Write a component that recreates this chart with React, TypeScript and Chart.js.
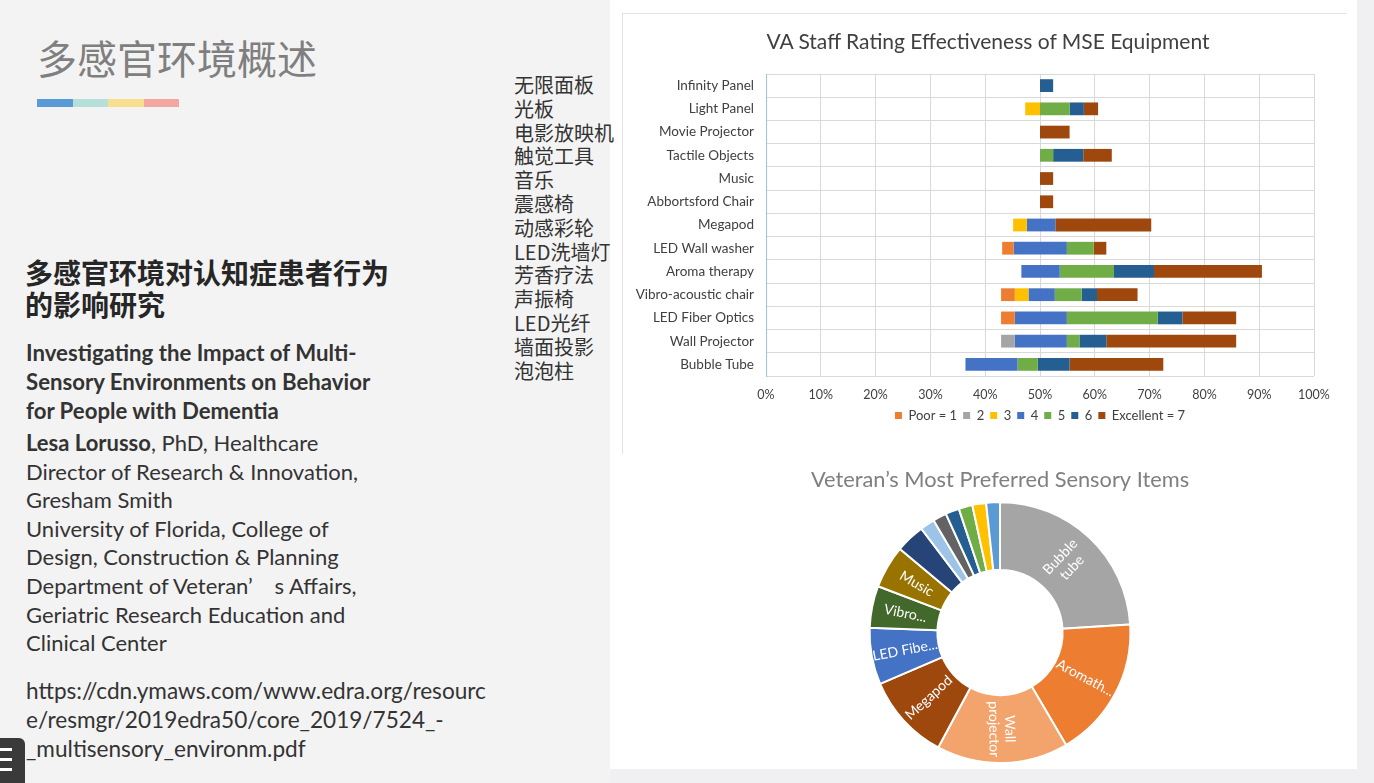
import React, { useEffect, useRef } from 'react';
import { Chart, registerables } from 'chart.js';

Chart.register(...registerables);

// ---------- Bar chart data (VA Staff Rating Effectiveness of MSE Equipment) ----------
const equipment = [
  'Infinity Panel',
  'Light Panel',
  'Movie Projector',
  'Tactile Objects',
  'Music',
  'Abbortsford Chair',
  'Megapod',
  'LED Wall washer',
  'Aroma therapy',
  'Vibro-acoustic chair',
  'LED Fiber Optics',
  'Wall Projector',
  'Bubble Tube',
];
// invisible lead-in so each bar floats around the 50% line
const offsetPct = [50, 47.3, 50, 50, 50, 50, 45.1, 43.1, 46.6, 42.9, 42.9, 42.9, 36.4];
const rating1 = [0, 0, 0, 0, 0, 0, 0, 2.1, 0, 2.5, 2.5, 0, 0];
const rating2 = [0, 0, 0, 0, 0, 0, 0, 0, 0, 0, 0, 2.5, 0];
const rating3 = [0, 2.7, 0, 0, 0, 0, 2.5, 0, 0, 2.5, 0, 0, 0];
const rating4 = [0, 0, 0, 0, 0, 0, 5.2, 9.7, 7.0, 4.8, 9.5, 9.5, 9.5];
const rating5 = [0, 5.4, 0, 2.4, 0, 0, 0, 4.9, 9.9, 4.9, 16.6, 2.3, 3.7];
const rating6 = [2.4, 2.6, 0, 5.5, 0, 0, 0, 0, 7.3, 2.8, 4.5, 4.9, 5.8];
const rating7 = [0, 2.6, 5.4, 5.2, 2.4, 2.4, 17.5, 2.3, 19.7, 7.4, 9.8, 23.7, 17.1];
const ratingLabels = ['Poor = 1', '2', '3', '4', '5', '6', 'Excellent = 7'];
const ratingColors = ['#ED7D31', '#A5A5A5', '#FFC000', '#4472C4', '#70AD47', '#255E91', '#9E480E'];
const barTitle = 'VA Staff Rating Effectiveness of MSE Equipment';

// ---------- Doughnut data (Veteran's Most Preferred Sensory Items) ----------
const preferredItems = [
  'Bubble tube',
  'Aromatherapy',
  'Wall projector',
  'Megapod',
  'LED Fiber Optics',
  'Vibro-acoustic chair',
  'Music',
  'Light Panel',
  'Tactile Objects',
  'Infinity Panel',
  'Movie Projector',
  'LED Wall washer',
  'Abbortsford Chair',
  'Other',
];
const preferredShare = [24, 17.5, 16.3, 10.7, 7, 5.2, 5.3, 3.6, 1.8, 1.7, 1.7, 1.7, 1.7, 1.7];
const preferredShown = ['Bubble\ntube', 'Aromath...', 'Wall\nprojector', 'Megapod', 'LED Fibe...', 'Vibro...', 'Music', '', '', '', '', '', '', ''];
const preferredColors = [
  '#A5A5A5', '#ED7D31', '#F2A46C', '#9E480E', '#4472C4', '#43682B', '#997300',
  '#264478', '#9DC3E6', '#636363', '#255E91', '#70AD47', '#FFC000', '#5B9BD5',
];
const doughnutTitle = 'Veteran\u2019s Most Preferred Sensory Items';

// ---------- Slide text ----------
const slideTitle = '多感官环境概述';
const cnHeading = ['多感官环境对认知症患者行为', '的影响研究'];
const enHeading = ['Investigating the Impact of Multi-', 'Sensory Environments on Behavior', 'for People with Dementia'];
const authorName = 'Lesa Lorusso';
const authorLines = [
  ', PhD, Healthcare',
  'Director of Research & Innovation,',
  'Gresham Smith',
  'University of Florida, College of',
  'Design, Construction & Planning',
  'Department of Veteran\u2019\u3000s Affairs,',
  'Geriatric Research Education and',
  'Clinical Center',
];
const urlLines = [
  'https://cdn.ymaws.com/www.edra.org/resourc',
  'e/resmgr/2019edra50/core_2019/7524_-',
  '_multisensory_environm.pdf',
];
const cnList = ['无限面板', '光板', '电影放映机', '触觉工具', '音乐', '震感椅', '动感彩轮', 'LED洗墙灯', '芳香疗法', '声振椅', 'LED光纤', '墙面投影', '泡泡柱'];
const stripeColors = ['#5B9BD5', '#B5DFD9', '#F8DE8F', '#F4A7A1'];

const FONT = 'Lato, "Liberation Sans", sans-serif';
const CJK = '"Noto Sans CJK SC", sans-serif';

function BarChart() {
  const ref = useRef<HTMLCanvasElement>(null);
  useEffect(() => {
    const series = [rating1, rating2, rating3, rating4, rating5, rating6, rating7];
    const chart = new Chart(ref.current!, {
      type: 'bar',
      data: {
        labels: equipment,
        datasets: [
          { label: 'offset', data: offsetPct, backgroundColor: 'rgba(0,0,0,0)', borderWidth: 0 },
          ...series.map((d, i) => ({
            label: ratingLabels[i],
            data: d,
            backgroundColor: ratingColors[i],
            borderWidth: 0,
          })),
        ],
      },
      options: {
        indexAxis: 'y',
        animation: false,
        responsive: false,
        maintainAspectRatio: false,
        datasets: { bar: { categoryPercentage: 0.55, barPercentage: 1 } },
        layout: { padding: { left: 0, right: 32, top: 60, bottom: 22 } },
        scales: {
          x: {
            stacked: true,
            min: 0,
            max: 100,
            ticks: {
              stepSize: 10,
              callback: (v: any) => v + '%',
              color: '#404040',
              font: { family: FONT, size: 12.5 },
              padding: 11,
            },
            grid: { color: '#D9D9D9', drawTicks: false },
            border: { display: false },
            afterFit: (s: any) => {
              s.height = s.height - 10;
            },
          },
          y: {
            stacked: true,
            ticks: { color: '#404040', font: { family: FONT, size: 13.5 }, padding: 12 },
            grid: { color: '#D9D9D9', offset: true, drawTicks: false },
            border: { color: '#9DC3E6' },
            afterFit: (s: any) => {
              s.width = 143;
            },
          },
        },
        plugins: {
          title: { display: false },
          legend: {
            position: 'bottom',
            fullSize: false,
            labels: {
              filter: (item: any) => item.datasetIndex > 0,
              boxWidth: 7,
              boxHeight: 7,
              color: '#404040',
              font: { family: FONT, size: 13 },
              padding: 6,
            },
          },
          tooltip: { enabled: false },
        },
      },
    });
    return () => chart.destroy();
  }, []);
  return <canvas ref={ref} width={723} height={440} style={{ width: 723, height: 440, display: 'block' }} />;
}

const sliceLabelPlugin = {
  id: 'sliceLabels',
  afterDatasetsDraw(chart: any) {
    const meta = chart.getDatasetMeta(0);
    const ctx = chart.ctx;
    meta.data.forEach((arc: any, i: number) => {
      const text = preferredShown[i];
      if (!text) return;
      const p = arc.getProps(['x', 'y', 'startAngle', 'endAngle', 'innerRadius', 'outerRadius'], true);
      const mid = (p.startAngle + p.endAngle) / 2;
      const r = (p.innerRadius + p.outerRadius) / 2;
      const cx = p.x + Math.cos(mid) * r;
      const cy = p.y + Math.sin(mid) * r;
      let deg = (mid * 180) / Math.PI;
      while (deg > 180) deg -= 360;
      while (deg <= -180) deg += 360;
      let rot = mid;
      if (deg > 91 || deg < -90) rot += Math.PI;
      const lines = text.split('\n');
      ctx.save();
      ctx.translate(cx, cy);
      ctx.rotate(rot);
      ctx.fillStyle = '#FFFFFF';
      ctx.font = '14px ' + FONT;
      ctx.textAlign = 'center';
      ctx.textBaseline = 'middle';
      const lh = 16;
      lines.forEach((ln: string, k: number) => {
        ctx.fillText(ln, 0, (k - (lines.length - 1) / 2) * lh);
      });
      ctx.restore();
    });
  },
};

function DoughnutChart() {
  const ref = useRef<HTMLCanvasElement>(null);
  useEffect(() => {
    const chart = new Chart(ref.current!, {
      type: 'doughnut',
      data: {
        labels: preferredItems,
        datasets: [
          {
            data: preferredShare,
            backgroundColor: preferredColors,
            borderColor: '#FFFFFF',
            borderWidth: 2,
          },
        ],
      },
      options: {
        animation: false,
        responsive: false,
        maintainAspectRatio: false,
        cutout: '48%',
        layout: { padding: 0 },
        plugins: {
          title: {
            display: true,
            text: doughnutTitle,
            color: '#7F7F7F',
            font: { family: FONT, size: 21.8, weight: 'normal' },
            padding: { top: 5, bottom: 8 },
          },
          legend: { display: false },
          tooltip: { enabled: false },
        },
      },
      plugins: [sliceLabelPlugin],
    });
    return () => chart.destroy();
  }, []);
  return <canvas ref={ref} width={520} height={302} style={{ width: 520, height: 302, display: 'block' }} />;
}

export default function App() {
  return (
    <div
      style={{
        position: 'fixed',
        left: 0,
        top: 0,
        width: 1374,
        height: 783,
        overflow: 'hidden',
        background: '#F0F0F2',
        fontFamily: FONT,
      }}
    >
      {/* left slide area */}
      <div style={{ position: 'absolute', left: 0, top: 0, width: 610, height: 783, background: '#F3F3F3' }} />
      {/* right white panel */}
      <div style={{ position: 'absolute', left: 610, top: 0, width: 747, height: 769, background: '#FFFFFF' }} />

      {/* slide title */}
      <div
        style={{
          position: 'absolute',
          left: 37,
          top: 35,
          fontFamily: CJK,
          fontSize: 40,
          lineHeight: '44px',
          color: '#7F7F7F',
          whiteSpace: 'nowrap',
        }}
      >
        {slideTitle}
      </div>
      {/* colour stripe */}
      <div style={{ position: 'absolute', left: 37, top: 99, display: 'flex' }}>
        {stripeColors.map((c) => (
          <div key={c} style={{ width: 35.5, height: 8, background: c }} />
        ))}
      </div>

      {/* Chinese heading */}
      <div
        style={{
          position: 'absolute',
          left: 25,
          top: 256,
          fontFamily: CJK,
          fontWeight: 700,
          fontSize: 28,
          lineHeight: '32px',
          color: '#262626',
          whiteSpace: 'nowrap',
        }}
      >
        {cnHeading.map((l) => (
          <div key={l}>{l}</div>
        ))}
      </div>

      {/* English heading */}
      <div
        style={{
          position: 'absolute',
          left: 26,
          top: 338,
          fontWeight: 700,
          fontSize: 22.2,
          lineHeight: '29px',
          color: '#333333',
          whiteSpace: 'nowrap',
        }}
      >
        {enHeading.map((l) => (
          <div key={l}>{l}</div>
        ))}
      </div>

      {/* author block */}
      <div
        style={{
          position: 'absolute',
          left: 26,
          top: 429,
          fontSize: 22,
          lineHeight: '28.6px',
          color: '#333333',
          whiteSpace: 'nowrap',
        }}
      >
        {authorLines.map((l, i) => (
          <div key={i}>
            {i === 0 ? <b>{authorName}</b> : null}
            {l}
          </div>
        ))}
      </div>

      {/* URL */}
      <div
        style={{
          position: 'absolute',
          left: 26,
          top: 676,
          fontSize: 22.6,
          lineHeight: '29px',
          color: '#333333',
          whiteSpace: 'nowrap',
        }}
      >
        {urlLines.map((l) => (
          <div key={l}>{l}</div>
        ))}
      </div>

      {/* Chinese equipment list */}
      <div
        style={{
          position: 'absolute',
          left: 514,
          top: 73,
          fontFamily: CJK,
          fontSize: 20,
          lineHeight: '23.8px',
          color: '#333333',
          whiteSpace: 'nowrap',
        }}
      >
        {cnList.map((l) => (
          <div key={l}>{l}</div>
        ))}
      </div>

      {/* bar chart card */}
      <div
        style={{
          position: 'absolute',
          left: 622,
          top: 13,
          width: 724,
          height: 440,
          borderLeft: '1px solid #E3E3E3',
          borderTop: '1px solid #E3E3E3',
          background: '#FFFFFF',
        }}
      >
        <BarChart />
        <div
          style={{
            position: 'absolute',
            left: 0,
            top: 14,
            width: 730,
            textAlign: 'center',
            fontSize: 21,
            lineHeight: '26px',
            color: '#404040',
            whiteSpace: 'nowrap',
          }}
        >
          {barTitle}
        </div>
      </div>

      {/* doughnut */}
      <div style={{ position: 'absolute', left: 740, top: 462 }}>
        <DoughnutChart />
      </div>

      {/* menu button */}
      <div
        style={{
          position: 'absolute',
          left: 0,
          top: 738,
          width: 25,
          height: 45,
          background: '#3A3A3A',
          borderRadius: '0 6px 0 0',
        }}
      >
        {[10, 20, 30].map((y) => (
          <div key={y} style={{ position: 'absolute', left: 0, top: y, width: 12, height: 3, background: '#FFFFFF' }} />
        ))}
      </div>
    </div>
  );
}
